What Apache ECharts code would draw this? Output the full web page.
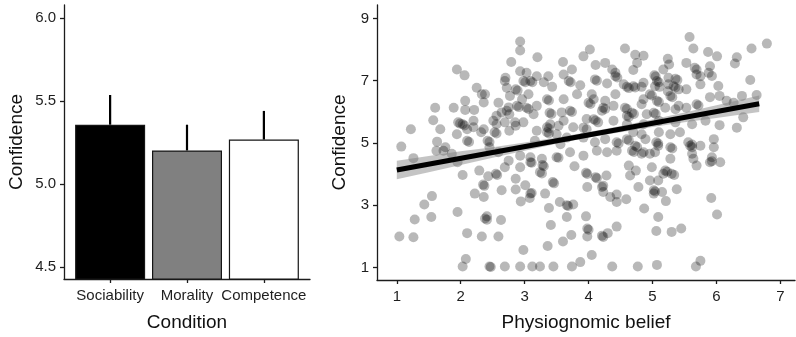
<!DOCTYPE html>
<html>
<head>
<meta charset="utf-8">
<script src="https://cdn.jsdelivr.net/npm/echarts@6/dist/echarts.min.js"></script>
<style>
  html, body { margin: 0; padding: 0; background: #ffffff; }
  #chart { width: 796px; height: 337px; }
</style>
</head>
<body>
<div id="chart"></div>
<script>
// ---- Left panel: mean confidence by condition ----
const conditions = ['Sociability', 'Morality', 'Competence'];
const meanConfidence = [5.357, 5.202, 5.268];
const upperError = [5.536, 5.357, 5.440];
const barTicks = [4.5, 5.0, 5.5, 6.0];

// ---- Right panel: physiognomic belief vs. confidence ----
const beliefTicks = [1, 2, 3, 4, 5, 6, 7];
const confidenceTicks = [1, 3, 5, 7, 9];

// [physiognomic belief, confidence] for each participant
const ratings = [
  [5.58,8.40],[6.79,8.19],[6.55,8.03],[5.64,8.03],[4.57,8.03],[4.02,8.00],[3.92,7.78],[4.73,7.83],[4.86,7.80],
  [5.87,7.92],[6.01,7.78],[6.32,7.75],[6.29,7.55],[2.93,8.26],[2.93,7.97],[3.20,7.75],[2.79,7.60],[3.60,7.60],
  [4.11,7.50],[4.26,7.57],[4.76,7.57],[5.24,7.70],[5.26,7.52],[5.53,7.57],[5.66,7.41],[5.90,7.46],[5.69,7.20],
  [5.88,7.25],[5.93,7.15],[6.53,7.02],[2.93,7.30],[1.94,7.36],[2.06,7.17],[3.74,7.36],[3.61,7.20],[3.37,7.14],
  [3.19,7.14],[3.03,7.25],[4.37,7.36],[4.42,7.25],[4.70,7.34],[5.03,7.17],[5.05,7.13],[5.07,6.99],[5.10,6.95],
  [5.36,7.06],[5.39,7.02],[5.25,6.88],[5.17,7.36],
  [2.69,6.99],[2.70,7.09],[2.72,6.77],[2.86,6.72],[2.89,6.68],[2.98,6.99],[3.01,6.95],[3.09,6.99],[3.12,6.95],
  [3.30,6.95],[3.43,6.80],[3.69,6.99],[3.72,6.95],[3.87,6.85],[4.10,7.04],[4.13,7.00],[4.29,6.91],[4.60,6.80],
  [4.63,6.76],[4.83,6.80],[4.96,6.56],[4.99,6.52],[5.11,6.80],[5.24,6.66],[5.41,6.72],[5.53,6.72],[5.75,6.88],
  [6.03,6.83],[6.05,6.51],[6.40,6.51],[6.63,6.54],
  [2.25,6.77],[2.33,6.56],[2.38,6.56],[2.36,6.30],[1.60,6.13],[1.89,6.13],[2.07,6.35],[2.59,6.29],[2.77,6.51],
  [2.75,6.14],[2.96,6.40],[2.88,6.19],[2.91,6.15],[3.03,6.13],[3.06,6.09],[3.19,6.19],[3.35,6.40],[3.38,6.36],
  [3.39,5.97],[3.42,5.93],[3.61,6.40],[3.71,6.03],[3.74,5.99],[4.00,6.29],[4.03,6.25],[4.08,6.40],[4.23,6.13],
  [4.26,6.09],[4.39,6.19],[4.57,6.13],[4.60,6.09],[4.68,5.97],[4.71,5.93],[4.86,6.40],[5.02,5.97],[5.05,5.93],
  [5.20,6.13],[5.36,6.08],[5.53,6.13],[5.69,6.24],[5.72,6.20],[6.16,6.35],[6.27,6.29],[6.42,5.82],[6.32,5.49],
  [6.05,5.57],[5.83,5.71],[5.62,5.60],[5.36,5.66],[5.10,5.71],[4.86,5.60],[4.60,5.87],[4.63,5.83],[4.60,5.60],
  [4.39,5.71],[4.08,5.76],[4.11,5.72],[3.92,5.49],[3.61,5.71],[3.40,5.60],[3.14,5.92],[2.72,6.03],[2.56,5.87],
  [2.56,5.60],[2.86,5.55],[2.98,5.66],[3.19,5.39],[3.35,5.34],[3.38,5.30],[3.50,5.28],[3.66,5.17],[3.92,5.17],
  [4.10,5.02],[4.26,5.12],[4.44,5.02],[4.47,4.98],[4.60,5.12],[4.63,5.08],[4.73,4.91],[4.76,4.87],[4.89,5.12],
  [5.06,5.02],[5.09,4.98],[5.28,5.28],[5.43,5.34],[5.10,5.34],[5.75,4.91],[5.96,5.12],[5.96,4.86],[5.62,4.86],
  [5.28,4.86],[5.31,4.82],[5.04,4.70],[4.86,4.70],[4.68,4.75],[4.71,4.71],[4.44,4.75],[4.29,4.70],[4.13,4.75],
  [3.92,4.59],[3.71,4.70],[3.50,4.54],[3.27,4.49],[3.09,4.38],[2.93,4.59],[2.75,4.43],[2.59,4.70],[2.45,4.86],
  [2.42,5.07],[2.45,5.03],[2.53,5.34],[2.56,5.30],[2.32,5.34],[5.62,4.65],[5.64,4.49],[5.93,4.54],[5.69,4.27],
  [5.28,4.49],[6.06,4.38],
  [2.07,6.06],[2.21,6.06],[2.64,5.98],[2.76,5.92],[1.57,5.73],[1.68,5.44],[1.22,5.44],[1.96,5.66],[1.99,5.62],
  [2.03,5.60],[2.06,5.56],[2.20,5.71],[2.20,5.50],[2.10,5.44],[1.94,5.28],[2.10,5.07],[2.13,5.03],[2.36,5.44],
  [2.51,5.71],[2.69,5.66],[2.85,5.66],[2.76,5.39],[1.07,4.88],[1.63,5.04],[1.76,4.86],[1.62,4.75],[1.73,4.75],
  [1.26,4.51],[1.86,4.65],[1.95,4.38],
  [1.04,1.99],[1.26,1.97],[1.28,2.54],[1.54,2.62],[1.43,3.02],[1.55,3.29],[1.95,2.78],[2.03,3.97],[2.10,2.10],
  [2.03,1.03],[2.08,1.27],[2.33,1.99],[2.38,2.57],[2.41,2.53],[2.41,2.64],[2.63,2.52],[2.59,1.99],[2.45,1.03],
  [2.47,1.01],[2.69,1.03],[2.93,1.03],[3.12,1.03],[3.24,1.03],[3.45,1.03],[3.74,1.03],[2.98,1.56],[3.36,1.69],
  [3.60,1.83],[3.87,1.17],[4.05,1.40],[4.37,1.03],[4.77,1.03],[5.07,1.08],[5.68,1.03],[5.75,1.21],[3.41,2.36],
  [3.73,2.04],[3.96,2.64],[3.98,2.25],[4.00,2.21],[3.98,1.99],[4.21,2.02],[4.23,1.98],[4.30,2.10],[4.44,2.31],
  [4.87,2.89],[5.06,2.17],[5.09,2.62],[5.30,2.14],[5.45,2.25],[5.92,3.23],[6.01,2.70],[3.66,2.62],[3.38,2.91],
  [3.55,3.10],[3.66,3.00],[3.68,2.97],[3.76,3.02],[2.94,3.12],[3.08,3.23],[3.11,3.39],[3.01,3.64],[2.86,3.50],
  [2.86,3.85],[2.64,3.48],[2.36,3.26],[2.22,3.37],[2.35,3.66],[2.37,3.62],[2.43,3.93],[2.55,4.01],[2.57,3.97],
  [2.69,4.22],[2.29,4.11],[3.32,3.37],[3.44,3.74],[3.46,3.70],[3.24,4.06],[3.27,4.02],[3.28,4.29],[3.30,4.25],
  [3.11,4.36],[3.78,4.25],[3.96,4.04],[3.98,4.00],[4.11,3.90],[4.13,3.86],[4.28,3.95],[3.98,3.58],[4.21,3.58],
  [4.23,3.62],[4.23,3.42],[4.34,3.26],[4.44,3.10],[4.44,3.34],[4.59,3.19],[4.63,4.27],[4.74,4.11],[4.78,3.58],
  [4.96,3.79],[5.02,3.48],[5.04,3.44],[5.02,3.37],[5.15,3.42],[5.21,3.13],[5.30,4.01],[5.17,4.01],[5.34,3.97],
  [5.38,3.51],[5.90,4.38],
  [3.09,4.54],[2.93,4.22],[3.53,4.52],[3.09,3.37],[4.65,3.95],[4.83,4.65],
  [5.09,4.91],[5.59,4.91],[5.62,4.95],[4.96,4.65],[5.93,4.41],[4.99,4.22],[5.20,4.11],[5.23,4.07],[5.09,3.79],
  [4.42,7.14],[4.45,7.10],[4.55,6.88],[4.70,6.82],[4.73,6.78],[4.86,6.93],[3.06,6.56],[3.82,6.56],[4.05,6.56],
  [4.26,6.35],[4.42,6.56],[4.83,6.24],[3.58,5.98],[3.97,5.77],[4.21,6.03],[4.15,5.66],[3.35,5.50],[3.38,5.46],
  [3.53,5.55],[3.76,5.50],[3.97,5.44],[4.70,5.34],[4.83,5.28],[3.16,5.07],[3.56,4.96],
  [5.69,7.36],[5.75,7.14],[5.04,6.82],[5.25,7.09],[5.33,6.82],[5.36,6.78],[5.90,6.47],[5.07,6.35],[5.10,6.31],
  [5.28,6.51],[5.31,6.47],[5.41,6.19],[4.91,5.92],[5.56,5.02]
];

// Fitted regression line (end points) and its confidence band
const fitLine = [[1.00, 4.13], [6.67, 6.26]];
const bandBelief = [1.0, 1.5, 2.0, 2.5, 3.0, 3.5, 4.0, 4.5, 5.0, 5.5, 6.0, 6.67];
const bandLower  = [3.83, 4.06, 4.29, 4.52, 4.75, 4.97, 5.17, 5.34, 5.51, 5.66, 5.80, 5.99];
const bandUpper  = [4.43, 4.58, 4.73, 4.86, 5.01, 5.17, 5.35, 5.54, 5.75, 5.98, 6.21, 6.52];

const FONT = '"Liberation Sans", Arial, Helvetica, sans-serif';
const axisStroke = { color: '#1c1c1c', width: 1.3 };
const tickText = { fontSize: 15, color: '#1e1e1e', fontFamily: FONT };
const titleText = { fontSize: 19, color: '#111111', fontFamily: FONT };
const barFills = ['#000000', '#808080', '#ffffff'];

function valueAxis(extra) {
  return Object.assign({
    type: 'value',
    axisLine: { show: true, onZero: false, lineStyle: axisStroke },
    splitLine: { show: false },
    nameLocation: 'middle',
    nameTextStyle: titleText
  }, extra);
}

const chart = echarts.init(document.getElementById('chart'), null, { renderer: 'canvas' });

chart.setOption({
  animation: false,
  backgroundColor: '#ffffff',
  grid: [
    { left: 64, top: 5, width: 246, height: 277 },
    { left: 377, top: 5, width: 418, height: 277 }
  ],
  xAxis: [
    valueAxis({
      gridIndex: 0, min: 0.4, max: 3.6,
      axisTick: { show: true, length: 4, lineStyle: axisStroke, customValues: [1, 2, 3] },
      axisLabel: Object.assign({ customValues: [1, 2, 3], margin: 9,
        formatter: v => conditions[Math.round(v) - 1] }, tickText),
      name: 'Condition', nameGap: 34
    }),
    valueAxis({
      gridIndex: 1, min: 0.69, max: 7.23,
      axisTick: { show: true, length: 4, lineStyle: axisStroke, customValues: beliefTicks },
      axisLabel: Object.assign({ customValues: beliefTicks, margin: 9,
        formatter: v => String(v) }, tickText),
      name: 'Physiognomic belief', nameGap: 33
    })
  ],
  yAxis: [
    valueAxis({
      gridIndex: 0, min: 4.4286, max: 6.0774,
      axisTick: { show: true, length: 4, lineStyle: axisStroke, customValues: barTicks },
      axisLabel: Object.assign({ customValues: barTicks, margin: 8,
        formatter: v => v.toFixed(1) }, tickText),
      name: 'Confidence', nameGap: 38, nameRotate: 90
    }),
    valueAxis({
      gridIndex: 1, min: 0.595, max: 9.43,
      axisTick: { show: true, length: 4, lineStyle: axisStroke, customValues: confidenceTicks },
      axisLabel: Object.assign({ customValues: confidenceTicks, margin: 8,
        formatter: v => String(v) }, tickText),
      name: 'Confidence', nameGap: 26, nameRotate: 90
    })
  ],
  series: [
    {
      type: 'bar', xAxisIndex: 0, yAxisIndex: 0, barWidth: 70, clip: true,
      data: conditions.map((c, i) => ({
        name: c,
        value: [i + 1, meanConfidence[i]],
        itemStyle: { color: barFills[i], borderColor: '#151515', borderWidth: 1.2 }
      })),
      z: 2
    },
    {
      // upper standard-error whiskers
      type: 'custom', xAxisIndex: 0, yAxisIndex: 0,
      data: conditions.map((c, i) => [i + 1, meanConfidence[i], upperError[i]]),
      renderItem: (params, api) => {
        const a = api.coord([api.value(0), api.value(1)]);
        const b = api.coord([api.value(0), api.value(2)]);
        return { type: 'line', shape: { x1: a[0], y1: a[1], x2: b[0], y2: b[1] },
                 style: { stroke: '#000000', lineWidth: 2.2 } };
      },
      z: 3
    },
    {
      type: 'scatter', xAxisIndex: 1, yAxisIndex: 1,
      data: ratings, symbol: 'circle', symbolSize: 10,
      itemStyle: { color: 'rgba(0,0,0,0.35)' },
      z: 1
    },
    {
      // confidence band around the fitted line
      type: 'custom', xAxisIndex: 1, yAxisIndex: 1,
      data: [[bandBelief[0], bandLower[0]]],
      renderItem: (params, api) => {
        const top = bandBelief.map((x, i) => api.coord([x, bandUpper[i]]));
        const bottom = bandBelief.map((x, i) => api.coord([x, bandLower[i]])).reverse();
        return { type: 'polygon', shape: { points: top.concat(bottom) },
                 style: { fill: 'rgba(125,125,125,0.45)' } };
      },
      z: 4
    },
    {
      type: 'line', xAxisIndex: 1, yAxisIndex: 1,
      data: fitLine, symbol: 'none',
      lineStyle: { color: '#000000', width: 5 },
      z: 5
    }
  ]
});
</script>
</body>
</html>
